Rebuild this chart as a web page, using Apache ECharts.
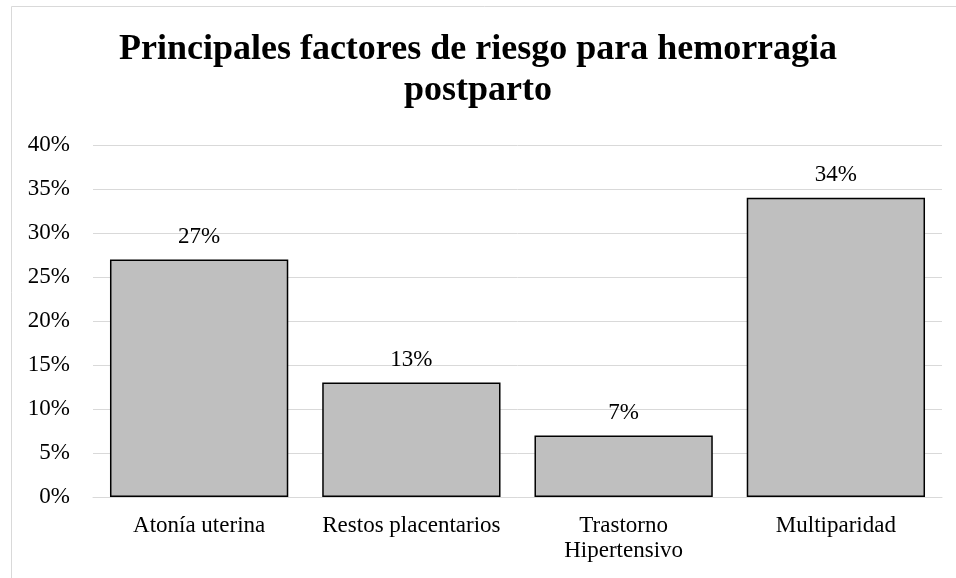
<!DOCTYPE html>
<html><head><meta charset="utf-8">
<script src="https://cdn.jsdelivr.net/npm/echarts@6/dist/echarts.min.js"></script>
<style>html,body{margin:0;padding:0;background:#fff}#c{width:956px;height:578px}</style>
</head><body><div id="c"></div>
<script>
const categories = ['Atonía uterina', 'Restos placentarios', 'Trastorno\nHipertensivo', 'Multiparidad'];
const values = [27, 13, 7, 34];
const titleText = 'Principales factores de riesgo para hemorragia\npostparto';

const chart = echarts.init(document.getElementById('c'));
const font = '"Liberation Serif", "Times New Roman", serif';
chart.setOption({
  animation: false,
  textStyle: { fontFamily: font },
  graphic: [{
    type: 'rect', shape: { x: 11.5, y: 6.5, width: 1000, height: 1000 },
    style: { fill: 'none', stroke: '#d9d9d9', lineWidth: 1 }, silent: true
  }],
  title: {
    text: titleText, left: 'center', top: 24,
    textStyle: { fontFamily: font, fontWeight: 'bold', fontSize: 36, lineHeight: 41, color: '#000' }
  },
  grid: { left: 93, right: 14, top: 145, bottom: 81, containLabel: false },
  xAxis: {
    type: 'category', data: categories,
    axisLine: { show: true, lineStyle: { color: '#d9d9d9', width: 1 } },
    axisTick: { show: false },
    axisLabel: { interval: 0, fontFamily: font, fontSize: 23, color: '#000', margin: 16, lineHeight: 25 }
  },
  yAxis: {
    type: 'value', min: 0, max: 40, interval: 5,
    axisLine: { show: false }, axisTick: { show: false },
    splitLine: { lineStyle: { color: '#d9d9d9', width: 1 } },
    axisLabel: { fontFamily: font, fontSize: 23, color: '#000', margin: 23, formatter: '{value}%' }
  },
  series: [{
    type: 'bar', data: values, barCategoryGap: '16%',
    itemStyle: { color: '#bfbfbf', borderColor: '#000', borderWidth: 1.5 },
    label: { show: true, position: 'top', distance: 11, formatter: '{c}%', fontFamily: font, fontSize: 23, color: '#000' }
  }]
});
</script></body></html>
